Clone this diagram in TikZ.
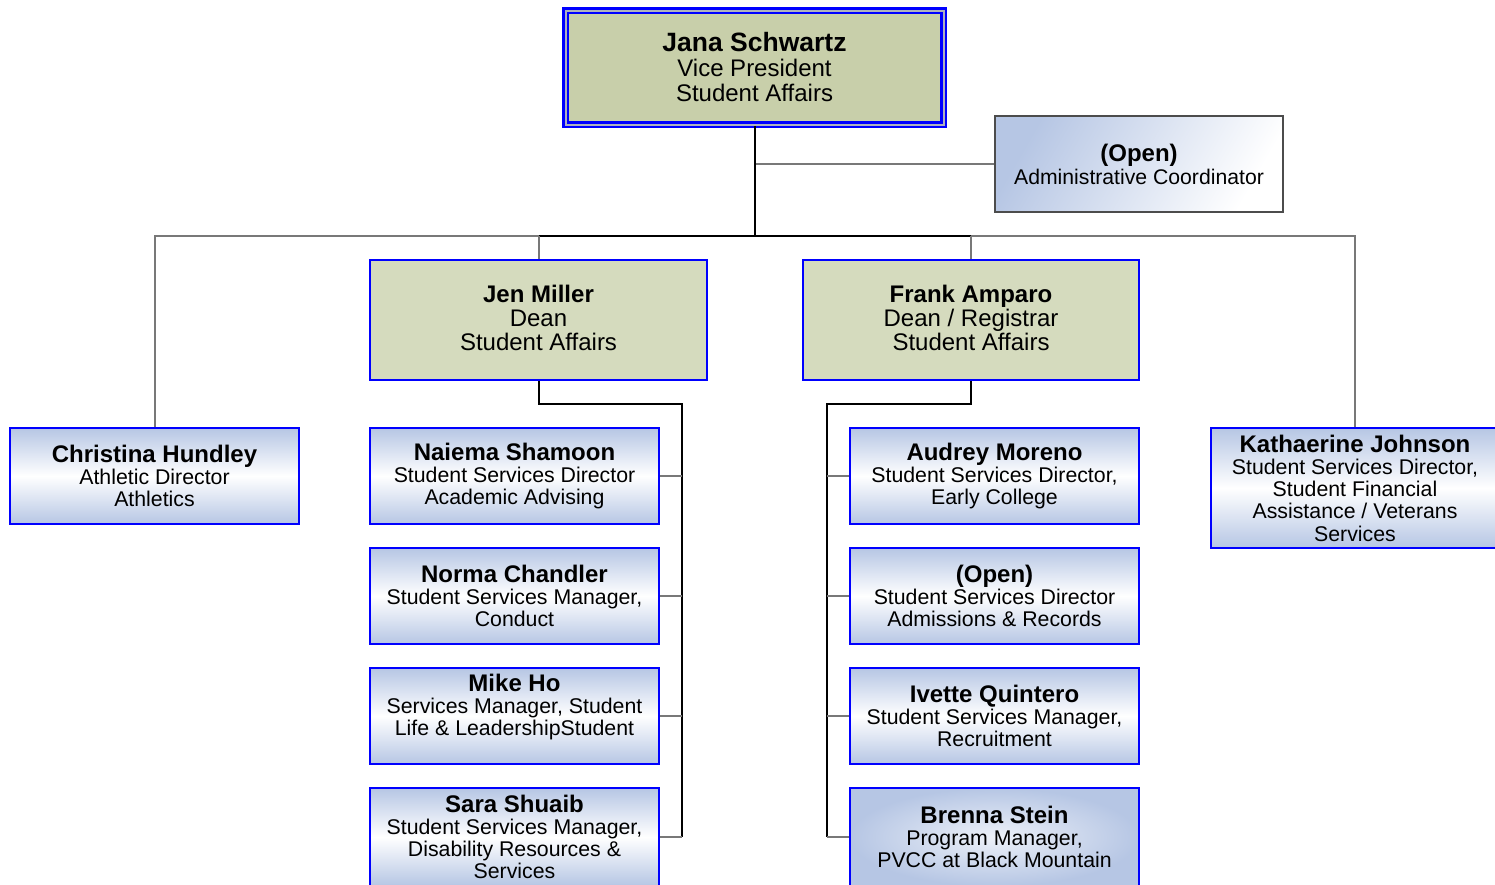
\documentclass[tikz,border=0pt]{standalone}
\usepackage{fontspec}
\setmainfont{Liberation Sans}
\definecolor{boxblue}{RGB}{0,0,255}
\definecolor{gradblue}{RGB}{182,198,228}
\definecolor{oliveA}{RGB}{200,207,170}
\definecolor{oliveB}{RGB}{213,219,190}
\definecolor{lngrey}{RGB}{120,120,120}
\definecolor{gapgrey}{RGB}{175,178,190}
\newcommand\pname[1]{{\fontsize{24}{22.2}\selectfont\bfseries #1}}
\begin{document}
\begin{tikzpicture}[x=1pt,y=-1pt,
  base/.style={rectangle, inner sep=0pt, align=center},
  bluebox/.style={base, draw=boxblue, line width=2.6pt, top color=gradblue, bottom color=gradblue, middle color=white,
     minimum width=289pt, minimum height=96pt, font=\fontsize{21.3}{22.2}\selectfont},
  deanbox/.style={base, draw=boxblue, line width=2.6pt, fill=oliveB, minimum height=120pt,
     text depth=4.5pt, font=\fontsize{24}{24}\selectfont},
  blk/.style={draw=black, line width=2pt},
  gry/.style={draw=lngrey, line width=2pt}]
\useasboundingbox (0,0) rectangle (1495,884);
\fill[white] (0,0) rectangle (1495,884);

% top
\node[base, draw=boxblue, line width=2.6pt, double=gapgrey, double distance=2pt, fill=oliveA,
  minimum width=378pt, minimum height=114pt, font=\fontsize{24}{25}\selectfont] (jana) at (754.5,67.5)
  {{\fontsize{26.5}{25}\selectfont\bfseries Jana Schwartz}\\Vice President\\Student Affairs};
\node[base, draw=black!70, line width=1.5pt, left color=gradblue, right color=white, shading angle=60,
  minimum width=288pt, minimum height=96pt, font=\fontsize{21.2}{23}\selectfont] (admin) at (1139,164)
  {{\fontsize{24}{23}\selectfont\bfseries (Open)}\\Administrative Coordinator};

% deans
\node[deanbox, minimum width=337pt] (jen) at (538.5,320) {{\bfseries Jen Miller}\\Dean\\Student Affairs};
\node[deanbox, minimum width=336pt] (frank) at (971,320) {{\bfseries Frank Amparo}\\Dean / Registrar\\Student Affairs};

% others
\node[bluebox] (christina) at (154.5,476) {\pname{Christina Hundley}\\Athletic Director\\Athletics};
\node[bluebox, minimum width=288pt, minimum height=120pt] (kath) at (1355,488)
  {\pname{Kathaerine Johnson}\\Student Services Director,\\Student Financial\\Assistance / Veterans\\Services};

\node[bluebox] (naiema) at (514.5,476) {\pname{Naiema Shamoon}\\Student Services Director\\Academic Advising};
\node[bluebox] (norma) at (514.5,596) {\pname{Norma Chandler}\\Student Services Manager,\\Conduct};
\node[bluebox] (mike) at (514.5,716) {\pname{Mike Ho}\\Services Manager, Student\\Life \& LeadershipStudent\\\mbox{}};
\node[bluebox, minimum height=98pt] (sara) at (514.5,837) {\pname{Sara Shuaib}\\Student Services Manager,\\Disability Resources \&\\Services};

\node[bluebox] (audrey) at (994.5,476) {\pname{Audrey Moreno}\\Student Services Director,\\Early College};
\node[bluebox] (open2) at (994.5,596) {\pname{(Open)}\\Student Services Director\\Admissions \& Records};
\node[bluebox] (ivette) at (994.5,716) {\pname{Ivette Quintero}\\Student Services Manager,\\Recruitment};
\node[bluebox, minimum height=98pt, inner color=white!75!gradblue, outer color=gradblue] (brenna) at (994.5,837)
  {\pname{Brenna Stein}\\Program Manager,\\PVCC at Black Mountain};

% connectors
\coordinate (bus) at (754.5,236);
\coordinate (jr) at (682,404);
\coordinate (fr) at (827,404);
\draw[gry] (jana.south |- admin.west) -- (admin.west);
\draw[blk] (jana.south) -- (bus);
\draw[blk] (jen.north |- bus) -- (frank.north |- bus);
\draw[gry] (jen.north) -- (jen.north |- bus);
\draw[gry] (frank.north) -- (frank.north |- bus);
\draw[gry] (christina.north) |- (jen.north |- bus);
\draw[gry] (kath.north) |- (frank.north |- bus);

\draw[blk] (jen.south) |- (jr) -- (jr |- sara.east);
\foreach \n in {naiema,norma,mike,sara} \draw[gry] (\n.east) -- (\n.east -| jr);
\draw[blk] (frank.south) |- (fr) -- (fr |- brenna.west);
\foreach \n in {audrey,open2,ivette,brenna} \draw[gry] (\n.west) -- (\n.west -| fr);
\end{tikzpicture}
\end{document}
